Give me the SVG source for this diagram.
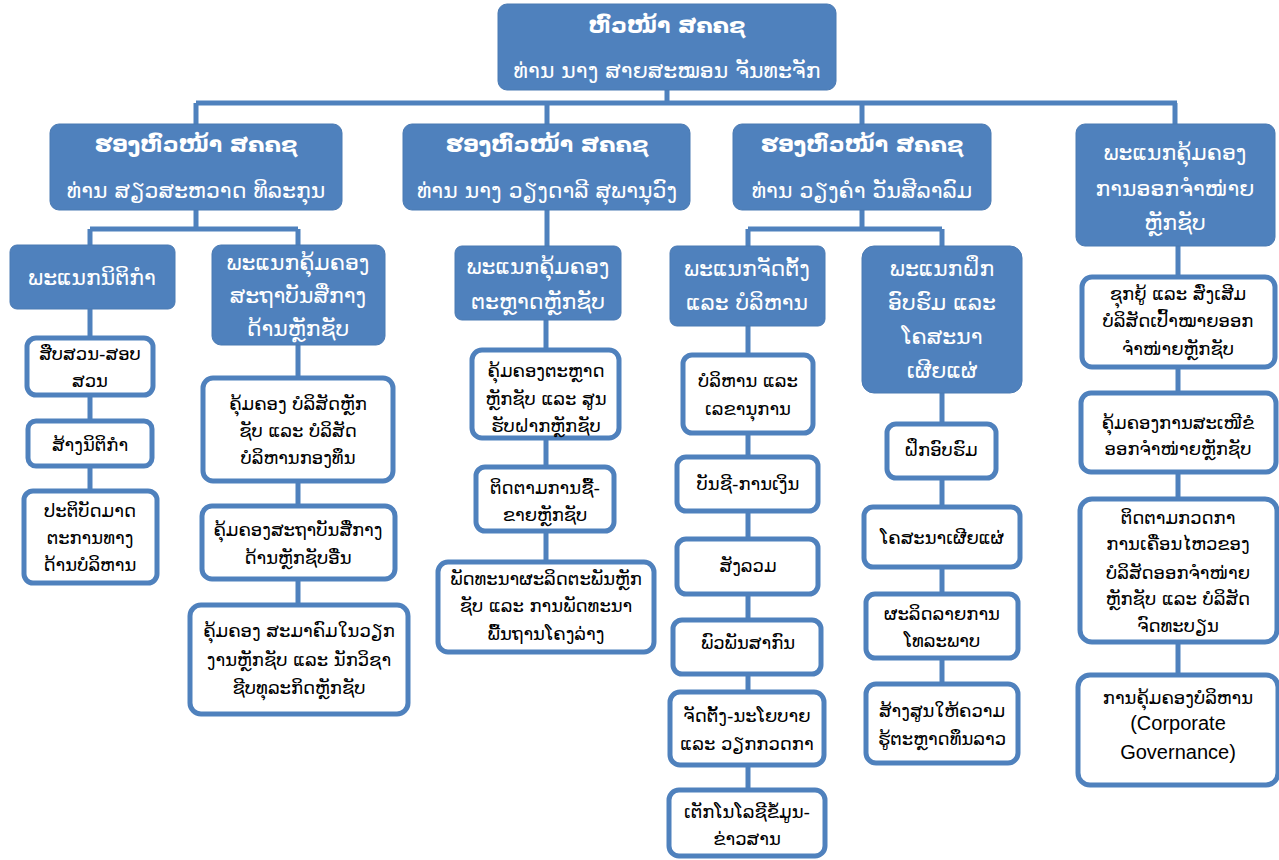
<svg xmlns="http://www.w3.org/2000/svg" width="1279" height="860" viewBox="0 0 1279 860">
<style>
.hd rect{fill:#4f81bd;stroke:#4a7ab3;stroke-width:1}
.hd text{fill:#fff;font-family:"DejaVu Sans",sans-serif;text-anchor:middle;font-size:22px}
.hd text.b{font-weight:bold}
.ch rect{fill:#fff;stroke:#4f81bd;stroke-width:5}
.ch text{fill:#000;font-family:"DejaVu Sans",sans-serif;text-anchor:middle;font-size:18px}
.ch text.en{font-family:"Liberation Sans",Arial,sans-serif;font-size:20px}
#connectors path{fill:none;stroke:#4f81bd;stroke-width:5}
</style>
<rect width="1279" height="860" fill="#fff"/>
<g id="connectors">
<path d="M667 90V103M196 103H1177M196 103V124M547 103V124M862 103V124M1175 103V124"/>
<path d="M196 210V229M90 229H298M90 229V245M298 229V245"/>
<path d="M547 210V246M862 210V229M748 229H942M748 229V246M942 229V246"/>
<path d="M90 309V491M298 345V605M546 320V562M748 326V790M942 393V684M1178 246V675"/>
</g>
<g id="n-top" class="hd"><rect x="498" y="4" width="338" height="86" rx="9"/><text class="b" x="667" y="33">ຫົວໜ້າ ສຄຄຊ</text><text x="667" y="78">ທ່ານ ນາງ ສາຍສະໝອນ ຈັນທະຈັກ</text></g>
<g id="n-dep1" class="hd"><rect x="50" y="124" width="292" height="86" rx="9"/><text class="b" x="196" y="152">ຮອງຫົວໜ້າ ສຄຄຊ</text><text x="196" y="198">ທ່ານ ສຽວສະຫວາດ ທິລະກຸນ</text></g>
<g id="n-dep2" class="hd"><rect x="403" y="124" width="287" height="86" rx="9"/><text class="b" x="547" y="152">ຮອງຫົວໜ້າ ສຄຄຊ</text><text x="547" y="198">ທ່ານ ນາງ ວຽງດາລີ ສຸພານຸວົງ</text></g>
<g id="n-dep3" class="hd"><rect x="733" y="124" width="258" height="86" rx="9"/><text class="b" x="862" y="152">ຮອງຫົວໜ້າ ສຄຄຊ</text><text x="862" y="198">ທ່ານ ວຽງຄຳ ວັນສີລາລົມ</text></g>
<g id="n-issue" class="hd"><rect x="1076" y="124" width="199" height="122" rx="9"/><text x="1175" y="160">ພະແນກຄຸ້ມຄອງ</text><text x="1175" y="196">ການອອກຈຳໜ່າຍ</text><text x="1175" y="230">ຫຼັກຊັບ</text></g>
<g id="n-legal" class="hd"><rect x="10" y="245" width="165" height="64" rx="7"/><text x="92" y="285">ພະແນກນິຕິກຳ</text></g>
<g id="n-interm" class="hd"><rect x="212" y="245" width="173" height="100" rx="9"/><text x="298" y="270">ພະແນກຄຸ້ມຄອງ</text><text x="298" y="303">ສະຖາບັນສື່ກາງ</text><text x="298" y="336">ດ້ານຫຼັກຊັບ</text></g>
<g id="n-market" class="hd"><rect x="455" y="246" width="166" height="74" rx="7"/><text x="538" y="274">ພະແນກຄຸ້ມຄອງ</text><text x="538" y="309">ຕະຫຼາດຫຼັກຊັບ</text></g>
<g id="n-admin" class="hd"><rect x="670" y="246" width="155" height="80" rx="7"/><text x="747" y="276">ພະແນກຈັດຕັ້ງ</text><text x="747" y="310">ແລະ ບໍລິຫານ</text></g>
<g id="n-train" class="hd"><rect x="862" y="246" width="160" height="147" rx="12"/><text x="942" y="276">ພະແນກຝຶກ</text><text x="942" y="310">ອົບຮົມ ແລະ</text><text x="942" y="344">ໂຄສະນາ</text><text x="942" y="378">ເຜີຍແຜ່</text></g>
<g id="c1a" class="ch"><rect x="27" y="338" width="126" height="57" rx="9"/><text x="90" y="360">ສືບສວນ-ສອບ</text><text x="90" y="387">ສວນ</text></g>
<g id="c1b" class="ch"><rect x="28" y="421" width="124" height="45" rx="8"/><text x="90" y="451">ສ້າງນິຕິກຳ</text></g>
<g id="c1c" class="ch"><rect x="24" y="491" width="133" height="92" rx="9"/><text x="90" y="517">ປະຕິບັດມາດ</text><text x="90" y="544">ຕະການທາງ</text><text x="90" y="571">ດ້ານບໍລິຫານ</text></g>
<g id="c2a" class="ch"><rect x="203" y="378" width="190" height="103" rx="10"/><text x="298" y="410">ຄຸ້ມຄອງ ບໍລິສັດຫຼັກ</text><text x="298" y="437">ຊັບ ແລະ ບໍລິສັດ</text><text x="298" y="464">ບໍລິຫານກອງທຶນ</text></g>
<g id="c2b" class="ch"><rect x="202" y="506" width="193" height="73" rx="10"/><text x="298" y="536">ຄຸ້ມຄອງສະຖາບັນສື່ກາງ</text><text x="298" y="564">ດ້ານຫຼັກຊັບອື່ນ</text></g>
<g id="c2c" class="ch"><rect x="190" y="605" width="218" height="109" rx="11"/><text x="299" y="637">ຄຸ້ມຄອງ ສະມາຄົມໃນວຽກ</text><text x="299" y="666">ງານຫຼັກຊັບ ແລະ ນັກວິຊາ</text><text x="299" y="694">ຊີບທຸລະກິດຫຼັກຊັບ</text></g>
<g id="c3a" class="ch"><rect x="472" y="350" width="147" height="88" rx="10"/><text x="546" y="377">ຄຸ້ມຄອງຕະຫຼາດ</text><text x="546" y="405">ຫຼັກຊັບ ແລະ ສູນ</text><text x="546" y="432">ຮັບຝາກຫຼັກຊັບ</text></g>
<g id="c3b" class="ch"><rect x="476" y="467" width="138" height="64" rx="9"/><text x="545" y="494">ຕິດຕາມການຊື້-</text><text x="545" y="521">ຂາຍຫຼັກຊັບ</text></g>
<g id="c3c" class="ch"><rect x="438" y="562" width="216" height="90" rx="10"/><text x="546" y="585">ພັດທະນາຜະລິດຕະພັນຫຼັກ</text><text x="546" y="612">ຊັບ ແລະ ການພັດທະນາ</text><text x="546" y="640">ພື້ນຖານໂຄງລ່າງ</text></g>
<g id="c4a" class="ch"><rect x="683" y="355" width="130" height="78" rx="9"/><text x="748" y="387">ບໍລິຫານ ແລະ</text><text x="748" y="415">ເລຂານຸການ</text></g>
<g id="c4b" class="ch"><rect x="677" y="457" width="141" height="54" rx="9"/><text x="748" y="490">ບັນຊີ-ການເງິນ</text></g>
<g id="c4c" class="ch"><rect x="677" y="539" width="141" height="55" rx="9"/><text x="748" y="572">ສັງລວມ</text></g>
<g id="c4d" class="ch"><rect x="673" y="620" width="148" height="54" rx="9"/><text x="748" y="649">ພົວພັນສາກົນ</text></g>
<g id="c4e" class="ch"><rect x="670" y="692" width="154" height="73" rx="10"/><text x="747" y="722">ຈັດຕັ້ງ-ນະໂຍບາຍ</text><text x="747" y="750">ແລະ ວຽກກວດກາ</text></g>
<g id="c4f" class="ch"><rect x="669" y="790" width="156" height="66" rx="10"/><text x="747" y="818">ເຕັກໂນໂລຊີຂໍ້ມູນ-</text><text x="747" y="845">ຂ່າວສານ</text></g>
<g id="c5a" class="ch"><rect x="887" y="424" width="109" height="54" rx="9"/><text x="941" y="456">ຝຶກອົບຮົມ</text></g>
<g id="c5b" class="ch"><rect x="864" y="507" width="156" height="60" rx="9"/><text x="942" y="544">ໂຄສະນາເຜີຍແຜ່</text></g>
<g id="c5c" class="ch"><rect x="866" y="594" width="152" height="64" rx="9"/><text x="942" y="620">ຜະລິດລາຍການ</text><text x="942" y="647">ໂທລະພາບ</text></g>
<g id="c5d" class="ch"><rect x="866" y="684" width="152" height="79" rx="10"/><text x="942" y="717">ສ້າງສູນໃຫ້ຄວາມ</text><text x="942" y="745">ຮູ້ຕະຫຼາດທຶນລາວ</text></g>
<g id="c6a" class="ch"><rect x="1082" y="277" width="193" height="90" rx="10"/><text x="1178" y="300">ຊຸກຍູ້ ແລະ ສົ່ງເສີມ</text><text x="1178" y="327">ບໍລິສັດເປົ້າໝາຍອອກ</text><text x="1178" y="355">ຈຳໜ່າຍຫຼັກຊັບ</text></g>
<g id="c6b" class="ch"><rect x="1081" y="393" width="195" height="79" rx="10"/><text x="1178" y="429">ຄຸ້ມຄອງການສະເໜີຂໍ</text><text x="1178" y="455">ອອກຈຳໜ່າຍຫຼັກຊັບ</text></g>
<g id="c6c" class="ch"><rect x="1080" y="499" width="197" height="143" rx="12"/><text x="1178" y="524">ຕິດຕາມກວດກາ</text><text x="1178" y="550">ການເຄື່ອນໄຫວຂອງ</text><text x="1178" y="579">ບໍລິສັດອອກຈຳໜ່າຍ</text><text x="1178" y="605">ຫຼັກຊັບ ແລະ ບໍລິສັດ</text><text x="1178" y="632">ຈົດທະບຽນ</text></g>
<g id="c6d" class="ch"><rect x="1078" y="675" width="200" height="110" rx="12"/><text x="1178" y="704">ການຄຸ້ມຄອງບໍລິຫານ</text><text class="en" x="1178" y="730">(Corporate</text><text class="en" x="1178" y="759">Governance)</text></g>
</svg>
